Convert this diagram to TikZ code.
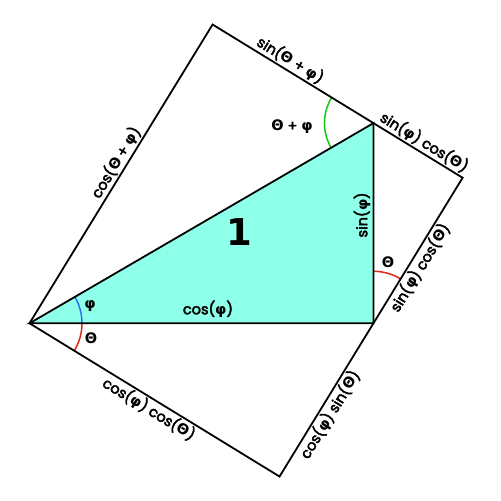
\documentclass[tikz,border=0pt]{standalone}
\usepackage{fontspec}
\setmainfont{Poppins}[FakeBold=3]
\newfontfamily\grk{DejaVu Sans}
\usetikzlibrary{calc}
\newcommand\myphi{{\grk\bfseries φ}}
\newcommand\myth{{\grk\bfseries Θ}}
\definecolor{trifill}{RGB}{142,255,232}
\definecolor{arcblue}{RGB}{50,110,245}
\definecolor{arcred}{RGB}{225,40,20}
\definecolor{arcgreen}{RGB}{20,200,20}
\begin{document}
\begin{tikzpicture}[x=1pt,y=1pt,
  edge/.style={line width=1.8pt, line join=miter},
  arcline/.style={line width=1.5pt},
  lbl/.style={font=\fontsize{14.5}{17}\selectfont, inner sep=2pt}]
\useasboundingbox (0,0) rectangle (501,501);
\def\L{398}\def\p{30.2}\def\t{31.5}
\coordinate (A) at (29.5,177.7);
\coordinate (C) at ($(A)+(\p:\L)$);
\coordinate (B) at (C |- A);
\coordinate (D) at ($(A)+(-\t:{\L*cos(\p)*cos(\t)})$);
\coordinate (E) at ($(D)+({90-\t}:{\L*sin(\t+\p)})$);
\coordinate (F) at ($(A)+({90-\t}:{\L*sin(\t+\p)})$);
\fill[trifill] (A)--(B)--(C)--cycle;
\draw[arcline,arcblue] ($(A)+(52.5,0)$) arc[start angle=0, end angle=\p, radius=52.5];
\draw[arcline,arcred] ($(A)+(-\t:52.5)$) arc[start angle=-\t, end angle=0, radius=52.5];
\draw[arcline,arcgreen] ($(C)+({180-\t}:49)$) arc[start angle={180-\t}, end angle={180+\p}, radius=49];
\draw[arcline,arcred] ($(B)+({90-\t}:52)$) arc[start angle={90-\t}, end angle=90, radius=52];
\draw[edge] (A)--(D)--(E)--(F)--cycle;
\draw[edge] (A)--(B)--(C)--cycle;
\node[lbl,font=\grk\bfseries\fontsize{37}{40}\selectfont] (one) at (239,268.5) {1};
\node[lbl] (cphi) at (208,192) {cos(\myphi)};
\node[lbl,rotate=90] (sphi) at (362,286) {sin(\myphi)};
\node[lbl] (phiA) at (90,195) {\myphi};
\node[lbl] (thA) at (91,163) {\myth};
\node[lbl] (thB) at (388,239) {\myth};
\node[lbl] (thphi) at (292,374) {\myth{} + \myphi};
\path (F) -- (C) node[lbl,pos=0.45,sloped,above] (top1) {sin(\myth{} + \myphi)};
\path (C) -- (E) node[lbl,pos=0.51,sloped,above] (top2) {sin(\myphi) cos(\myth)};
\path (A) -- (F) node[lbl,pos=0.52,sloped,above] (left1) {cos(\myth{} + \myphi)};
\path (B) -- (E) node[lbl,pos=0.42,sloped,below] (right1) {sin(\myphi) cos(\myth)};
\path (D) -- (B) node[lbl,pos=0.44,sloped,below] (right2) {cos(\myphi) sin(\myth)};
\path (A) -- (D) node[lbl,pos=0.50,sloped,below] (bot1) {cos(\myphi) cos(\myth)};
\end{tikzpicture}
\end{document}
